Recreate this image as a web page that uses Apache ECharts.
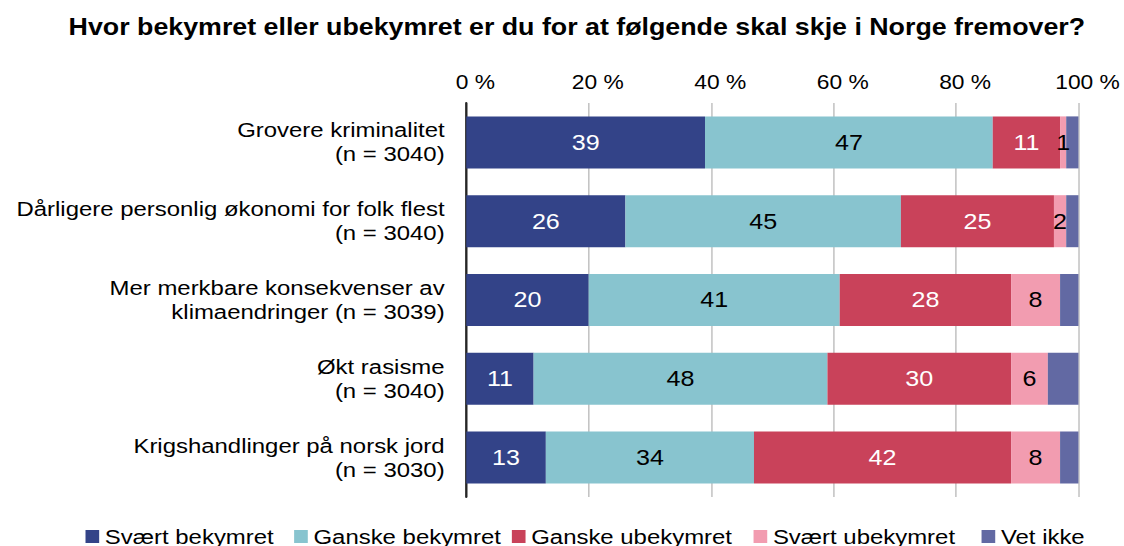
<!DOCTYPE html>
<html>
<head>
<meta charset="utf-8">
<script src="https://cdn.jsdelivr.net/npm/echarts@6/dist/echarts.min.js"></script>
<style>
  html, body { margin: 0; padding: 0; background: #fff; overflow: hidden; }
  /* the chart is laid out in a narrower box and widened horizontally */
  #chart { width: 986px; height: 546px; transform: scaleX(1.14); transform-origin: 0 0; }
</style>
</head>
<body>
<div id="chart"></div>
<script>
const title = 'Hvor bekymret eller ubekymret er du for at følgende skal skje i Norge fremover?';

const categories = [
  'Grovere kriminalitet\n(n = 3040)',
  'Dårligere personlig økonomi for folk flest\n(n = 3040)',
  'Mer merkbare konsekvenser av\nklimaendringer (n = 3039)',
  'Økt rasisme\n(n = 3040)',
  'Krigshandlinger på norsk jord\n(n = 3030)'
];

const seriesNames = ['Svært bekymret', 'Ganske bekymret', 'Ganske ubekymret', 'Svært ubekymret', 'Vet ikke'];

const svaertBekymret  = [39, 26, 20, 11, 13];
const ganskeBekymret  = [47, 45, 41, 48, 34];
const ganskeUbekymret = [11, 25, 28, 30, 42];
const svaertUbekymret = [1, 2, 8, 6, 8];
const vetIkke         = [2, 2, 3, 5, 3];

const percentTicks = [0, 20, 40, 60, 80, 100];

const values = [svaertBekymret, ganskeBekymret, ganskeUbekymret, svaertUbekymret, vetIkke];
const colors = ['#334388', '#88C4CF', '#C9425A', '#F29CB0', '#6269A3'];
const labelColors = ['#ffffff', '#000000', '#ffffff', '#000000', null];
const legendLeft = [75, 258, 449, 661, 861];

const FONT = '"Liberation Sans", Arial, Helvetica, sans-serif';

const chart = echarts.init(document.getElementById('chart'), null, { renderer: 'svg' });

const series = seriesNames.map((name, i) => ({
  name,
  type: 'bar',
  stack: 'total',
  barWidth: 52,
  data: values[i],
  itemStyle: { color: colors[i] },
  label: {
    show: labelColors[i] !== null,
    position: 'inside',
    formatter: '{c}',
    color: labelColors[i] || '#000',
    fontSize: 22,
    fontFamily: FONT
  },
  emphasis: { disabled: true }
}));

chart.setOption({
  animation: false,
  backgroundColor: '#ffffff',
  textStyle: { fontFamily: FONT },
  title: {
    text: title,
    left: 506,
    top: 15,
    padding: 0,
    textAlign: 'center',
    textStyle: { fontSize: 23.5, fontWeight: 'bold', color: '#000', fontFamily: FONT }
  },
  legend: seriesNames.map((name, i) => ({
    data: [name],
    left: legendLeft[i],
    top: 526,
    padding: 0,
    itemWidth: 12,
    itemHeight: 13,
    icon: 'rect',
    selectedMode: false,
    textStyle: { fontSize: 21, color: '#000', fontFamily: FONT }
  })),
  grid: { left: 409, right: 40, top: 103, bottom: 49, containLabel: false },
  xAxis: {
    type: 'value',
    position: 'top',
    min: percentTicks[0],
    max: percentTicks[percentTicks.length - 1],
    interval: percentTicks[1] - percentTicks[0],
    axisLine: { show: false },
    axisTick: { show: false },
    axisLabel: {
      formatter: '{value} %',
      fontSize: 20,
      color: '#000',
      margin: 11,
      padding: [0, 0, 0, 16],
      fontFamily: FONT
    },
    splitLine: { show: true, lineStyle: { color: '#C0C0C0', width: 1.3 } }
  },
  yAxis: {
    type: 'category',
    inverse: true,
    data: categories,
    axisLine: { show: true, lineStyle: { color: '#262626', width: 2 } },
    axisTick: { show: false },
    axisLabel: {
      fontSize: 21,
      lineHeight: 24,
      color: '#000',
      margin: 19,
      align: 'right',
      fontFamily: FONT
    }
  },
  series
});
</script>
</body>
</html>
